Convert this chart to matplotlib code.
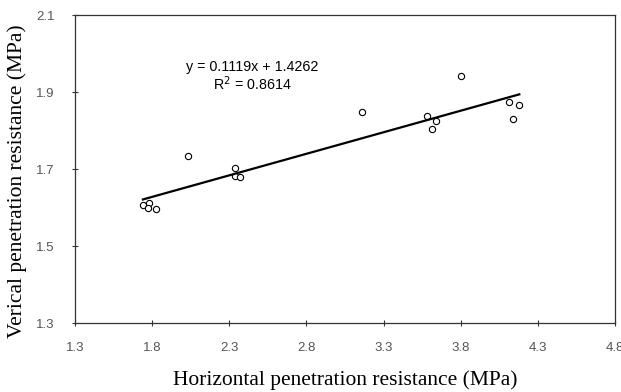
import matplotlib.pyplot as plt

# Horizontal vs vertical penetration resistance (MPa)
horizontal = [1.74, 1.78, 1.775, 1.825, 2.03, 2.335, 2.34, 2.37,
              3.16, 3.58, 3.615, 3.64, 3.80, 4.115, 4.14, 4.18]
vertical = [1.606, 1.613, 1.600, 1.596, 1.735, 1.703, 1.682, 1.679,
            1.848, 1.838, 1.805, 1.824, 1.942, 1.875, 1.831, 1.867]

slope = 0.1119
intercept = 1.4262
r2 = 0.8614

x_ticks = [1.3, 1.8, 2.3, 2.8, 3.3, 3.8, 4.3, 4.8]
y_ticks = [1.3, 1.5, 1.7, 1.9, 2.1]

fig = plt.figure(figsize=(6.21, 3.92), dpi=100)
ax = fig.add_axes([0.1208, 0.176, 0.8695, 0.7857])

# 散布点
ax.plot(horizontal, vertical, "o", mfc="white", mec="black", ms=4.5, mew=0.8)

# 回帰直線
xs = [min(horizontal), max(horizontal)]
ax.plot(xs, [slope * x + intercept for x in xs], color="black", lw=1.6)

ax.text(2.447, 1.94, f"y = {slope}x + {intercept}\nR$^2$ = {r2}",
        ha="center", va="center", fontsize=10.3, family="Liberation Sans",
        linespacing=1.05)

# 見た目の調整
ax.set_xlim(1.3, 4.8)
ax.set_ylim(1.3, 2.1)
ax.set_xticks(x_ticks)
ax.set_yticks(y_ticks)
ax.set_xticklabels([f"{t:.1f}" for t in x_ticks])
ax.set_yticklabels([f"{t:.1f}" for t in y_ticks])
ax.tick_params(direction="inout", length=5, width=0.8, labelsize=9.5,
               labelcolor="#555555", color="#333333")
ax.tick_params(axis="x", pad=11)
ax.tick_params(axis="y", pad=12)
for label in ax.get_xticklabels() + ax.get_yticklabels():
    label.set_family("Liberation Sans")
for spine in ax.spines.values():
    spine.set_linewidth(0.9)
    spine.set_color("#333333")

ax.set_xlabel("Horizontal penetration resistance (MPa)", family="Liberation Serif",
              fontsize=15.5, labelpad=12)
ax.set_ylabel("Verical penetration resistance (MPa)", family="Liberation Serif",
              fontsize=15.5)
ax.yaxis.set_label_coords(-0.089, 0.461)

fig.savefig("out.png", dpi=100)
